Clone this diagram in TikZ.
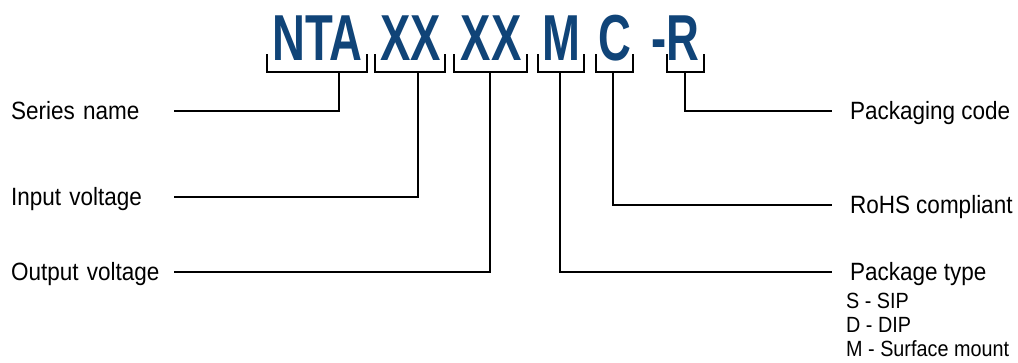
\documentclass[tikz,border=0pt]{standalone}
\usepackage{fontspec}
\setmainfont{Liberation Sans}
\newfontfamily\codefont[FakeStretch=0.7]{Liberation Sans}
\newfontfamily\lblfont[FakeStretch=0.9]{Liberation Sans}
\usepackage{xcolor}
\definecolor{ntblue}{RGB}{16,68,120}
\usepackage{tikz}
\usetikzlibrary{positioning}

\tikzset{
  code/.style={font=\codefont\bfseries\fontsize{65}{65}\selectfont,
               text=ntblue, inner sep=0pt, anchor=base},
  brk/.style={line width=2.2pt, line cap=rect},
  lead/.style={line width=2pt},
  lbl/.style={font=\lblfont\fontsize{25}{25}\selectfont, inner ysep=0pt,
              outer sep=0pt, text height=17pt, text depth=0pt},
  lbleft/.style={lbl, anchor=east, inner xsep=1pt, text width=162pt, align=left},
  lbright/.style={lbl, anchor=west, inner xsep=18pt, align=left},
  sub/.style={font=\lblfont\fontsize{22}{22}\selectfont, inner sep=0pt, anchor=base west}
}

\begin{document}
\begin{tikzpicture}[x=1pt, y=-1pt]
      \useasboundingbox (0,0) rectangle (1018,362);
      % part number
      \node[code] (nta)  at (317.5,60) {NTA};
      \node[code] (vin)  at (410.5,60) {XX};
      \node[code] (vout) at (491,60)   {XX};
      \node[code] (pkg)  at (561.5,60) {M};
      \node[code] (rohs) at (615,60)   {C};
      \node[code] (reel) at (675,60)   {-R};
      % brackets under the groups
      \foreach \l/\r/\s/\n in {267/367/339/nta, 375/445/418/vin, 454/527/490/vout,
                               538/584/560/pkg, 596/633/613/rohs, 667/704/685/reel} {
        \draw[brk] (\l,55) |- (\r,72) -- (\r,55);
        \coordinate (\n-stem) at (\s,72);
      }
      % labels
      \node[lbleft]  (series) at (174,111) {Series name};
      \node[lbleft]  (input)  at (174,197) {Input voltage};
      \node[lbleft]  (output) at (174,272) {Output voltage};
      \node[lbright] (pcode)  at (832,111) {Packaging code};
      \node[lbright] (rohsl)  at (832,205) {RoHS compliant};
      \node[lbright] (ptype)  at (832,272) {Package type};
      \foreach \t [count=\i] in {S - SIP, D - DIP, M - Surface mount}
        \node[sub] (ptype\i) at (846,284+24*\i) {\t};
      % leaders
      \draw[lead] (nta-stem)  |- (series);
      \draw[lead] (vin-stem)  |- (input);
      \draw[lead] (vout-stem) |- (output);
      \draw[lead] (pkg-stem)  |- (ptype);
      \draw[lead] (rohs-stem) |- (rohsl);
      \draw[lead] (reel-stem) |- (pcode);
\end{tikzpicture}
\end{document}
